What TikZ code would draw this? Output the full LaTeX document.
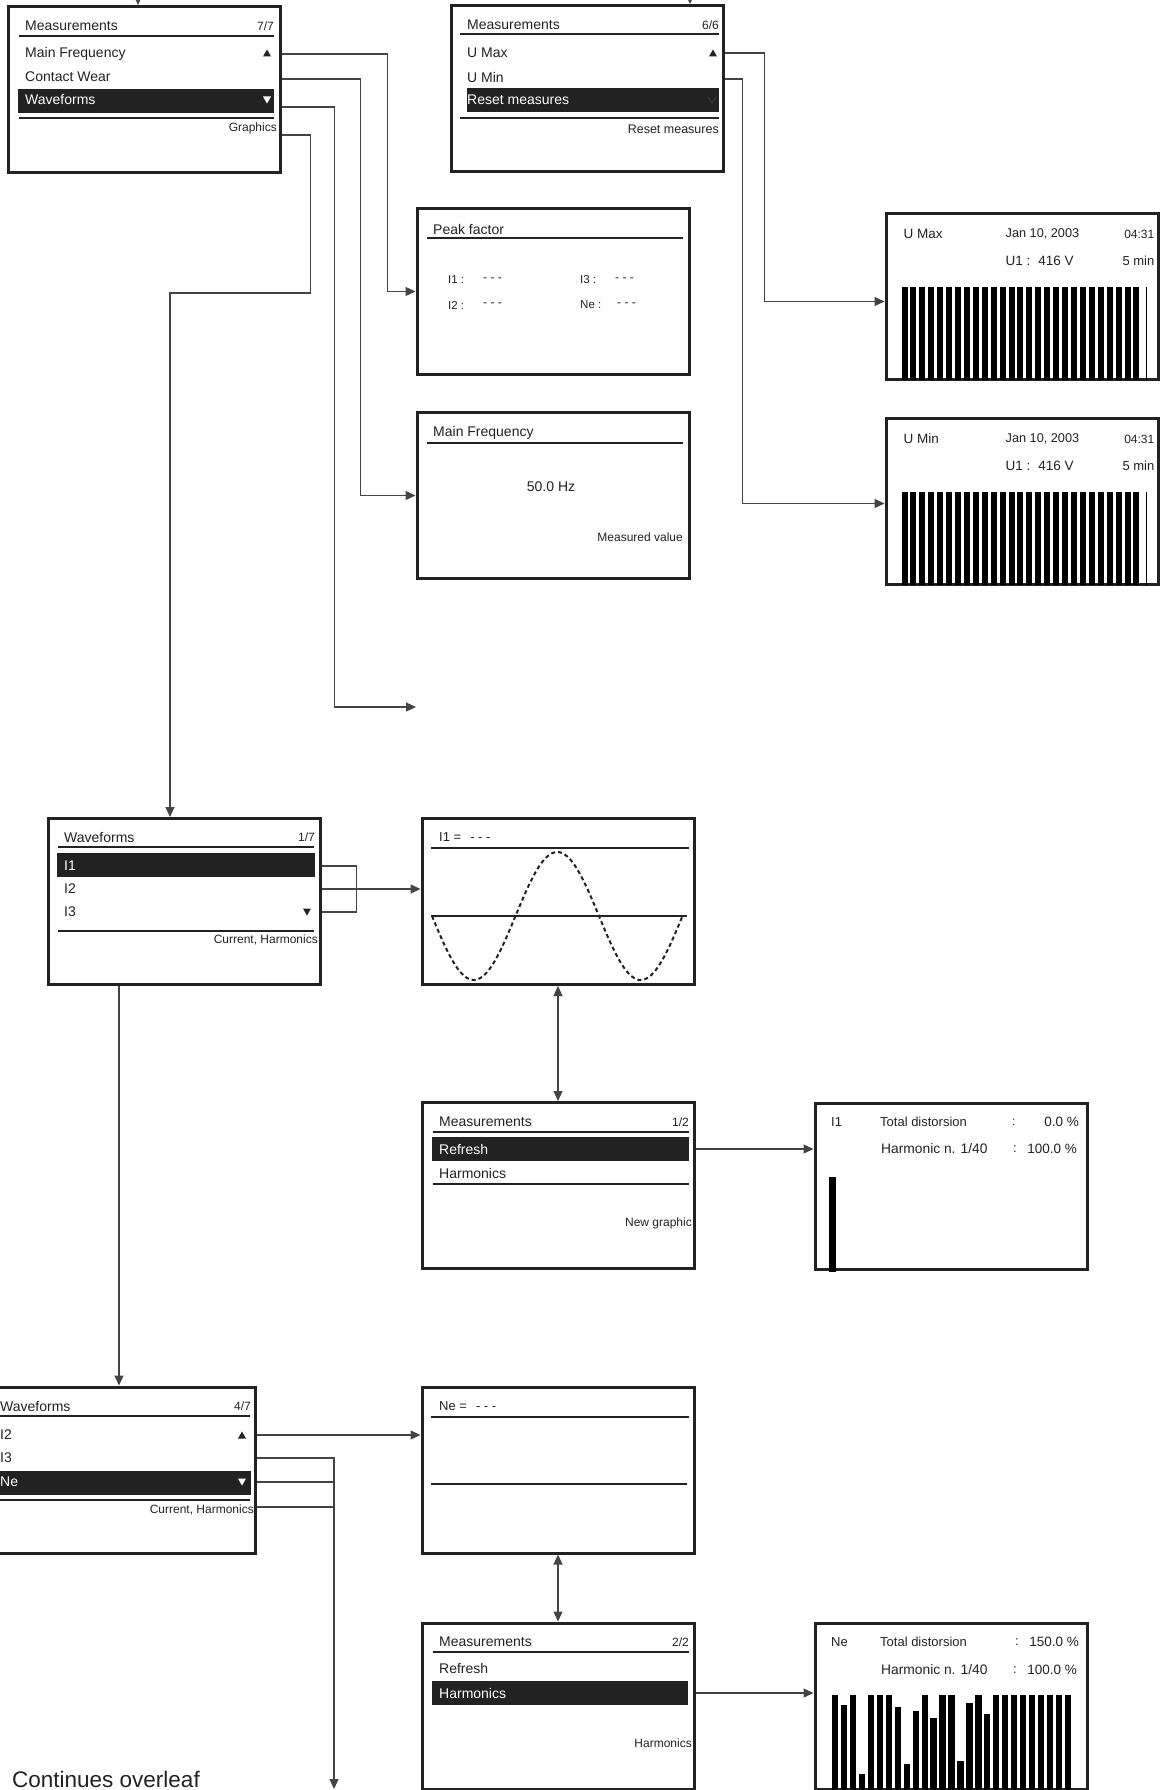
\documentclass[tikz,border=0pt]{standalone}
\usepackage{fontspec}
\setmainfont{Liberation Sans}
\usetikzlibrary{arrows.meta,calc}
\definecolor{ink}{HTML}{222222}
\definecolor{wire}{HTML}{444444}
\newcommand\pxfont[1]{\fontsize{#1}{#1}\selectfont}
\tikzset{
  screen/.style={draw=ink,line width=3pt,minimum width=272pt,minimum height=166pt,inner sep=0pt},
  item/.style={anchor=west,inner sep=0pt,text=ink,font=\pxfont{14}},
  inv/.style={item,text=white},
  note/.style={anchor=east,inner sep=0pt,text=ink,font=\pxfont{12}},
  rule/.style={draw=ink,line width=2pt},
  link/.style={draw=wire,line width=1.2pt},
  conn/.style={link,-{Triangle[length=10pt,width=9pt]}},
  both/.style={link,{Triangle[length=10pt,width=9pt]}-{Triangle[length=10pt,width=9pt]}}
}

\begin{document}
\begin{tikzpicture}[x=1pt,y=-1pt]
\useasboundingbox (0,0) rectangle (1165,1790);
\clip (0,0) rectangle (1165,1790);
\fill[white] (0,0) rectangle (1165,1790);

% screens
\node[screen] (menu) at (144,89.5) {};
\node[screen] (menuU) at (587,88.5) {};
\node[screen] (peak) at (553,291.5) {};
\node[screen] (freq) at (553,495.5) {};
\node[screen] (umax) at (1022,296.5) {};
\node[screen] (umin) at (1022,501.5) {};
\node[screen] (wavA) at (184,901.5) {};
\node[screen] (sineA) at (558,901.5) {};
\node[screen] (measA) at (558,1185.5) {};
\node[screen] (harmA) at (951,1186) {};
\node[screen] (wavB) at (119,1470) {};
\node[screen] (sineB) at (558,1470) {};
\node[screen] (measB) at (558,1706) {};
\node[screen] (harmB) at (951,1706) {};

% measurements 7/7
\node[item] (mTitle) at (25,26) {Measurements};
\node[note] (mPage) at (274,26) {7/7};
\draw[rule] (19,36) -- (274,36);
\node[item] (mFreq) at (25,54) {Main Frequency};
\node[item] (mWear) at (25,77) {Contact Wear};
\fill[ink] (18,89) rectangle (274,113);
\node[inv] (mWave) at (25,100) {Waveforms};
\draw[rule] (19,118) -- (274,118);
\node[note] (mGfx) at (277,128) {Graphics};
\fill[ink] (267,53) ++(-4,3.5) -- ++(8,0) -- ++(-4,-7) -- cycle;
\fill[white] (267,100) ++(-4,-3.5) -- ++(8,0) -- ++(-4,7) -- cycle;

% measurements 6/6
\node[item] (uTitle) at (467,25) {Measurements};
\node[note] (uPage) at (719,25) {6/6};
\draw[rule] (460,34) -- (719,34);
\node[item] (uMax) at (467,53) {U Max};
\node[item] (uMin) at (467,77) {U Min};
\fill[ink] (467,88) rectangle (719,112);
\node[inv] (uReset) at (467,100) {Reset measures};
\draw[rule] (460,118) -- (719,118);
\node[note,font=\pxfont{12.5}] (uFoot) at (719,129) {Reset measures};
\fill[ink] (713,53) ++(-4,3.5) -- ++(8,0) -- ++(-4,-7) -- cycle;
\draw[gray!35!ink,line width=.6pt] (712,100) ++(-4,-3.5) -- ++(4,7) -- ++(4,-7);

% peak factor
\node[item] (pTitle) at (433,229) {Peak factor};
\draw[rule] (427,238) -- (683,238);
\foreach \lbl/\px/\dx/\py [count=\k] in {I1/448/483/280, I3/580/615/280, I2/448/483/305, Ne/580/617/305}{
  \node[item,font=\pxfont{11.5}] (pLbl\k) at (\px,\py) {\lbl\ :};
  \node[item,font=\pxfont{12}] (pVal\k) at (\dx,\py) {- - -};
}

% main frequency
\node[item] (fTitle) at (433,433) {Main Frequency};
\draw[rule] (427,443) -- (683,443);
\node[inner sep=0pt,text=ink,font=\pxfont{14}] (fVal) at (551,487) {50.0 Hz};
\node[note] (fNote) at (683,537) {Measured value};

% U max / U min
\foreach \scr/\lbl in {umax/U Max,umin/U Min}{
  \node[item,font=\pxfont{13.5}] (\scr-name) at ($(\scr.north west)+(19,22)$) {\lbl};
  \node[item,font=\pxfont{12.7}] (\scr-date) at ($(\scr.north west)+(121,22)$) {Jan 10, 2003};
  \node[note] (\scr-time) at ($(\scr.north east)+(-5,22)$) {04:31};
  \node[item,font=\pxfont{13.5}] (\scr-val) at ($(\scr.north west)+(121,49)$) {U1 :\hspace{8pt}416 V};
  \node[note,font=\pxfont{13}] (\scr-span) at ($(\scr.north east)+(-5,49)$) {5 min};
  \foreach \i in {0,...,26}
    \fill[black] ($(\scr.north west)+({17+8.92*\i},75)$) rectangle ++(6,93);
  \fill[black] ($(\scr.north west)+(261,75)$) rectangle ++(1.5,93);
}

% waveforms 1/7
\node[item] (aTitle) at (64,837) {Waveforms};
\node[note] (aPage) at (315,837) {1/7};
\draw[rule] (58,847) -- (314,847);
\fill[ink] (57,853) rectangle (315,877);
\node[inv] (aI1) at (64,866) {I1};
\node[item] (aI2) at (64,889) {I2};
\node[item] (aI3) at (64,912) {I3};
\fill[ink] (307,912) ++(-4,-3.5) -- ++(8,0) -- ++(-4,7) -- cycle;
\draw[rule] (58,931) -- (314,931);
\node[note,font=\pxfont{12}] (aFoot) at (318,940) {Current, Harmonics};

% waveforms 4/7
\begin{scope}[shift={(-64,569)}]
\node[item] (bTitle) at (64,837) {Waveforms};
\node[note] (bPage) at (315,837) {4/7};
\draw[rule] (40,847) -- (314,847);
\node[item] (bI2) at (64,866) {I2};
\fill[ink] (306,866) ++(-4,3.5) -- ++(8,0) -- ++(-4,-7) -- cycle;
\node[item] (bI3) at (64,889) {I3};
\fill[ink] (40,902) rectangle (315,926);
\node[inv] (bNe) at (64,913) {Ne};
\fill[white] (306,913) ++(-4,-3.5) -- ++(8,0) -- ++(-4,7) -- cycle;
\draw[rule] (40,931) -- (314,931);
\node[note,font=\pxfont{12}] (bFoot) at (318,941) {Current, Harmonics};
\end{scope}

% curves
\node[item,font=\pxfont{13}] (sATitle) at (439,837) {I1 =\hspace{9pt}- - -};
\draw[rule] (431,848) -- (689,848);
\draw[rule] (431,916) -- (687,916);
\draw[ink,line width=2pt,dash pattern=on 4pt off 3pt] plot[domain=0:251,samples=120] ({432+\x},{916+64*sin(2.15569*\x)});
\node[item,font=\pxfont{13}] (sBTitle) at (439,1406) {Ne =\hspace{9pt}- - -};
\draw[rule] (431,1417) -- (689,1417);
\draw[rule] (431,1484) -- (687,1484);

% measurements 1/2 and 2/2
\node[item] (aMeas) at (439,1122) {Measurements};
\node[note] (aMPage) at (689,1122) {1/2};
\draw[rule] (433,1132) -- (689,1132);
\fill[ink] (432,1137) rectangle (689,1161);
\node[inv] (aRefresh) at (439,1149) {Refresh};
\node[item] (aHarm) at (439,1173) {Harmonics};
\draw[rule] (433,1184) -- (689,1184);
\node[note] (aMFoot) at (692,1223) {New graphic};

\node[item] (bMeas) at (439,1642) {Measurements};
\node[note] (bMPage) at (689,1642) {2/2};
\draw[rule] (433,1652) -- (689,1652);
\node[item] (bRefresh) at (439,1668) {Refresh};
\fill[ink] (432,1681) rectangle (688,1705);
\node[inv] (bHarm) at (439,1693) {Harmonics};
\node[note] (bMFoot) at (692,1743) {Harmonics};

% harmonics
\node[item,font=\pxfont{13}] (hAName) at (831,1122) {I1};
\node[item,font=\pxfont{13}] (hATd) at (880,1122) {Total distorsion};
\node[item,font=\pxfont{12}] (hAc1) at (1012,1122) {:};
\node[note,font=\pxfont{13.5}] (hAv1) at (1079,1122) {0.0 \%};
\node[item,font=\pxfont{13.8}] (hAHn) at (881,1149) {Harmonic n. 1/40};
\node[item,font=\pxfont{13}] (hAc2) at (1013,1149) {:};
\node[note,font=\pxfont{13.5}] (hAv2) at (1077,1149) {100.0 \%};
\fill[black] (829,1177) rectangle (836,1272);

\node[item,font=\pxfont{13}] (hBName) at (831,1642) {Ne};
\node[item,font=\pxfont{13}] (hBTd) at (880,1642) {Total distorsion};
\node[item,font=\pxfont{13}] (hBc1) at (1015,1642) {:};
\node[note,font=\pxfont{13.5}] (hBv1) at (1079,1642) {150.0 \%};
\node[item,font=\pxfont{13.8}] (hBHn) at (881,1670) {Harmonic n. 1/40};
\node[item,font=\pxfont{13}] (hBc2) at (1013,1670) {:};
\node[note,font=\pxfont{13.5}] (hBv2) at (1077,1670) {100.0 \%};
\foreach \t [count=\i from 0] in {1695,1705,1695,1774,1695,1695,1695,1707,1764,1711,1695,1718,1695,1695,1761,1703,1695,1714,1695,1695,1695,1695,1695,1695,1695,1695,1695}
  \fill[black] ({832+8.95*\i},\t) rectangle ++(6.3,{1792-\t});

\node[item,font=\pxfont{22.5}] (overleaf) at (12,1779) {Continues overleaf};

% connectors
\coordinate (inA) at (138,-2);
\coordinate (inB) at (690,-2);
\coordinate (spare) at (416,707);
\coordinate (onward) at (334,1789);
\draw[conn] (inA) -- (inA |- menu.north);
\draw[conn] (inB) -- (inB |- menuU.north);
\draw[conn] (menu.east |- mFreq) -- ++(106,0) |- (peak.west);
\draw[conn] ($(menu.east |- mWear)+(0,2)$) -- ++(79,0) |- (freq.west);
\draw[conn] ($(menu.east |- mWave)+(0,7)$) -- ++(53,0) |- (spare);
\draw[conn] ($(menu.east |- mGfx)+(0,7)$) -- ++(29,0) -- ++(0,158) -| ($(wavA.north)+(-14,0)$);
\draw[conn] (menuU.east |- uMax) -- ++(40,0) |- ([yshift=-5pt]umax.west);
\draw[conn] ($(menuU.east |- uMin)+(0,2)$) -- ++(18,0) |- ([yshift=-2pt]umin.west);
\draw[link] (wavA.east |- aI1) -- ++(35,0) |- (wavA.east |- aI3);
\draw[conn] (wavA.east |- aI2) -- (sineA.west |- aI2);
\draw[conn] (wavA.south -| wavB.north) -- (wavB.north);
\draw[both] (sineA.south) -- (measA.north);
\draw[conn] (measA.east |- aRefresh) -- (harmA.west |- aRefresh);
\draw[conn] (wavB.east |- bI2) -- (sineB.west |- bI2);
\draw[conn] (wavB.east |- bI3) -| (onward);
\draw[link] (wavB.east |- bNe) -- (onward |- bNe);
\draw[link] ($(wavB.east |- bFoot)+(0,-3)$) -- ($(onward |- bFoot)+(0,-3)$);
\draw[both] (sineB.south) -- (measB.north);
\draw[conn] (measB.east |- bHarm) -- (harmB.west |- bHarm);
\end{tikzpicture}
\end{document}
